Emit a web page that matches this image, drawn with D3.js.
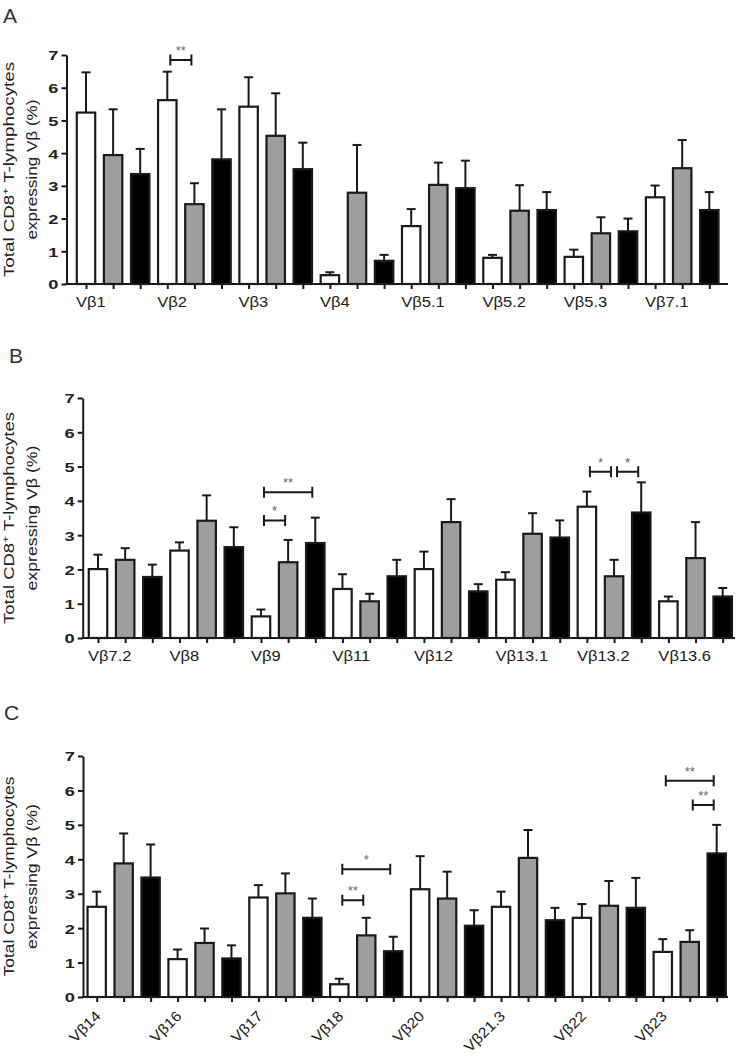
<!DOCTYPE html>
<html>
<head>
<meta charset="utf-8">
<script src="https://cdn.jsdelivr.net/npm/d3@7"></script>
<style>
  html, body { margin: 0; padding: 0; background: #fff; }
  svg { display: block; font-family: "Liberation Sans", Arial, sans-serif; }
</style>
</head>
<body>
<svg id="chart" width="737" height="1057"></svg>
<script>
// ---------------- data ----------------
const seriesFills = ["#ffffff", "#9e9e9e", "#000000"];
const yTicks = [0, 1, 2, 3, 4, 5, 6, 7];

const groupsA = ["Vβ1", "Vβ2", "Vβ3", "Vβ4", "Vβ5.1", "Vβ5.2", "Vβ5.3", "Vβ7.1"];
const meansA = [5.24, 3.94, 3.36, 5.62, 2.44, 3.81, 5.42, 4.53, 3.51, 0.27, 2.79, 0.71,
                1.77, 3.03, 2.93, 0.80, 2.24, 2.26, 0.83, 1.55, 1.61, 2.65, 3.54, 2.26];
const semsA  = [1.23, 1.40, 0.77, 0.87, 0.64, 1.53, 0.90, 1.30, 0.81, 0.09, 1.46, 0.18,
                0.52, 0.68, 0.84, 0.09, 0.78, 0.55, 0.22, 0.49, 0.39, 0.36, 0.86, 0.55];
const sigA = [{from: 3, to: 4, level: 6.85, label: "**"}];

const groupsB = ["Vβ7.2", "Vβ8", "Vβ9", "Vβ11", "Vβ12", "Vβ13.1", "Vβ13.2", "Vβ13.6"];
const meansB = [2.01, 2.28, 1.78, 2.55, 3.42, 2.65, 0.63, 2.21, 2.77, 1.43, 1.07, 1.80,
                2.01, 3.38, 1.36, 1.70, 3.04, 2.93, 3.83, 1.80, 3.66, 1.07, 2.33, 1.21];
const semsB  = [0.42, 0.34, 0.36, 0.24, 0.74, 0.58, 0.20, 0.65, 0.74, 0.43, 0.22, 0.48,
                0.51, 0.67, 0.21, 0.22, 0.60, 0.50, 0.44, 0.48, 0.88, 0.14, 1.05, 0.25];
const sigB = [
  {from: 6, to: 7, level: 3.43, label: "*"},
  {from: 6, to: 8, level: 4.25, label: "**"},
  {from: 18, to: 19, level: 4.85, label: "*"},
  {from: 19, to: 20, level: 4.85, label: "*"}
];

const groupsC = ["Vβ14", "Vβ16", "Vβ17", "Vβ18", "Vβ20", "Vβ21.3", "Vβ22", "Vβ23"];
const meansC = [2.62, 3.88, 3.47, 1.10, 1.57, 1.12, 2.89, 3.01, 2.30, 0.37, 1.79, 1.33,
                3.13, 2.86, 2.07, 2.62, 4.04, 2.23, 2.30, 2.65, 2.59, 1.31, 1.60, 4.17];
const semsC  = [0.44, 0.87, 0.96, 0.28, 0.42, 0.38, 0.36, 0.58, 0.56, 0.16, 0.51, 0.42,
                0.96, 0.78, 0.45, 0.44, 0.81, 0.36, 0.40, 0.72, 0.87, 0.37, 0.34, 0.83];
const sigC = [
  {from: 9, to: 10, level: 2.81, label: "**"},
  {from: 9, to: 11, level: 3.71, label: "*"},
  {from: 21, to: 23, level: 6.28, label: "**"},
  {from: 22, to: 23, level: 5.58, label: "**"}
];

const titleLine1 = "Total CD8";
const titleSup = "+";
const titleLine1b = " T-lymphocytes";
const titleLine2 = "expressing Vβ (%)";

// ---------------- drawing ----------------
const svg = d3.select("#chart");
const INK = "#1a1a1a";

function stretch(sel, f) {
  sel.each(function () {
    const w = this.getComputedTextLength();
    d3.select(this).attr("textLength", w * f).attr("lengthAdjust", "spacingAndGlyphs");
  });
}

function drawPanel(cfg) {
  const g = svg.append("g");
  const n = cfg.means.length;
  const x = d3.scalePoint().domain(d3.range(n)).range([cfg.xFirst, cfg.xLast]);
  const y = d3.scaleLinear().domain([0, 7]).range([cfg.yZero, cfg.yTop]);
  const bw = x.step() * 0.68;

  // panel letter
  g.append("text").attr("x", cfg.letterX).attr("y", cfg.letterY)
    .attr("font-size", 21).attr("fill", "#333").text(cfg.letter);

  // y title
  const cy = (cfg.yZero + cfg.yTop) / 2;
  const t1 = g.append("text")
    .attr("transform", `translate(${cfg.titleX1},${cy}) rotate(-90)`)
    .attr("text-anchor", "middle").attr("font-size", 14).attr("fill", "#222");
  t1.append("tspan").text(titleLine1);
  t1.append("tspan").attr("font-size", 9).attr("dy", -5).text(titleSup);
  t1.append("tspan").attr("dy", 5).text(titleLine1b);
  t1.attr("textLength", cfg.titleLen1).attr("lengthAdjust", "spacingAndGlyphs");
  g.append("text")
    .attr("transform", `translate(${cfg.titleX2},${cy}) rotate(-90)`)
    .attr("text-anchor", "middle").attr("font-size", 14).attr("fill", "#222")
    .attr("textLength", cfg.titleLen2).attr("lengthAdjust", "spacingAndGlyphs")
    .text(titleLine2);

  // y axis
  const ya = g.append("g").attr("transform", `translate(${cfg.axisX},0)`)
    .call(d3.axisLeft(y).tickValues(yTicks).tickSize(5).tickSizeOuter(0).tickPadding(3)
      .tickFormat(d3.format("d")));
  ya.select(".domain").attr("stroke", INK).attr("stroke-width", 2);
  ya.selectAll(".tick line").attr("stroke", INK).attr("stroke-width", 2);
  ya.selectAll(".tick text").attr("font-size", 13.5).attr("font-weight", "bold")
    .attr("fill", "#222").attr("dy", "0.36em").call(stretch, 1.35);

  // x axis ticks
  const xa = g.append("g").attr("transform", `translate(0,${cfg.yZero})`)
    .call(d3.axisBottom(x).tickSize(5).tickSizeOuter(0).tickFormat(""));
  xa.select(".domain").remove();
  xa.selectAll(".tick line").attr("stroke", INK).attr("stroke-width", 2);

  // error bars
  const eg = g.append("g").attr("stroke", INK).attr("stroke-width", 2);
  cfg.means.forEach((m, i) => {
    const top = y(m + cfg.sems[i]);
    eg.append("line").attr("x1", x(i)).attr("x2", x(i)).attr("y1", y(m)).attr("y2", top);
    eg.append("line").attr("x1", x(i) - 4.5).attr("x2", x(i) + 4.5).attr("y1", top).attr("y2", top);
  });

  // bars
  g.append("g").selectAll("rect").data(cfg.means).join("rect")
    .attr("x", (d, i) => x(i) - bw / 2)
    .attr("y", d => y(d))
    .attr("width", bw)
    .attr("height", d => y(0) - y(d))
    .attr("fill", (d, i) => seriesFills[i % 3])
    .attr("stroke", INK).attr("stroke-width", 2.2);

  // x axis line
  g.append("line").attr("x1", cfg.axisX - 1).attr("x2", cfg.xEnd)
    .attr("y1", cfg.yZero).attr("y2", cfg.yZero)
    .attr("stroke", INK).attr("stroke-width", 2);

  // group labels
  const lab = g.append("g").selectAll("text").data(cfg.groups).join("text")
    .attr("fill", "#222").text(d => d);
  if (cfg.rotate) {
    lab.attr("font-size", 14.5).attr("text-anchor", "end")
      .attr("transform", (d, i) => `translate(${x(i * 3) + 5},${cfg.yZero + 20}) rotate(-45)`)
      .call(stretch, 1.1);
  } else {
    lab.attr("font-size", 14).attr("text-anchor", "start")
      .attr("x", (d, i) => x(i * 3) - 10)
      .attr("y", cfg.yZero + 23)
      .call(stretch, 1.18);
  }

  // significance brackets
  const sg = g.append("g");
  cfg.sig.forEach(s => {
    const x1 = x(s.from) + 3, x2 = x(s.to) - 3, yy = y(s.level);
    sg.append("path")
      .attr("d", `M${x1},${yy - 5.5}V${yy + 5.5}M${x1},${yy}H${x2}M${x2},${yy - 5.5}V${yy + 5.5}`)
      .attr("stroke", INK).attr("stroke-width", 2).attr("fill", "none");
    sg.append("text").attr("x", (x1 + x2) / 2).attr("y", yy - 5)
      .attr("text-anchor", "middle").attr("font-size", 13).attr("fill", "#666")
      .text(s.label);
  });
}

drawPanel({
  letter: "A", letterX: 3, letterY: 23,
  means: meansA, sems: semsA, groups: groupsA, sig: sigA,
  axisX: 66.5, xFirst: 86, xLast: 709.3, xEnd: 728, yZero: 284, yTop: 55,
  titleX1: 14, titleX2: 37, titleLen1: 215, titleLen2: 140, rotate: false
});
drawPanel({
  letter: "B", letterX: 9, letterY: 363,
  means: meansB, sems: semsB, groups: groupsB, sig: sigB,
  axisX: 82.7, xFirst: 98, xLast: 722.7, xEnd: 735, yZero: 638, yTop: 398,
  titleX1: 14, titleX2: 37, titleLen1: 212, titleLen2: 145, rotate: false
});
drawPanel({
  letter: "C", letterX: 4, letterY: 720,
  means: meansC, sems: semsC, groups: groupsC, sig: sigC,
  axisX: 83, xFirst: 96.7, xLast: 716.7, xEnd: 728, yZero: 997, yTop: 756,
  titleX1: 14, titleX2: 37, titleLen1: 200, titleLen2: 145, rotate: true
});
</script>
</body>
</html>
